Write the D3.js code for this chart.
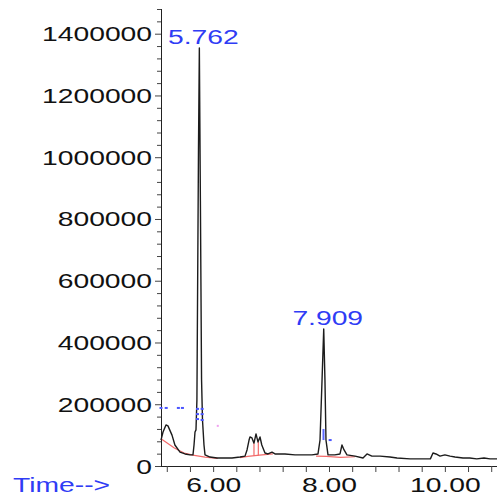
<!DOCTYPE html>
<html>
<head>
<meta charset="utf-8">
<script src="https://cdn.jsdelivr.net/npm/d3@7"></script>
<style>
  html, body { margin: 0; padding: 0; background: #fff; }
  svg { display: block; }
</style>
</head>
<body>
<svg width="498" height="495"></svg>
<script>
// chromatogram trace (time in min, abundance)
const traceTime = [5.10, 5.135, 5.186, 5.22, 5.29, 5.34, 5.428, 5.514, 5.60, 5.652, 5.67, 5.687, 5.704, 5.72, 5.747, 5.762, 5.78, 5.80, 5.816, 5.842, 5.86,
  5.946, 6.067, 6.205, 6.326, 6.464, 6.55, 6.585, 6.62, 6.636, 6.67, 6.705, 6.74, 6.774, 6.809, 6.84, 6.895, 6.947, 7.016, 7.068, 7.24, 7.413, 7.586, 7.706,
  7.81, 7.845, 7.88, 7.909, 7.93, 7.948, 7.983, 8.10, 8.19, 8.224, 8.26, 8.31, 8.45, 8.587, 8.656, 8.74, 8.88, 9.053, 9.174, 9.40, 9.657, 9.75, 9.795, 9.847,
  9.916, 10.0, 10.09, 10.175, 10.313, 10.43, 10.55, 10.676, 10.78, 10.9];
const traceAbund = [84000, 110000, 133000, 130000, 100000, 68000, 45000, 39000, 36000, 36000, 68000, 110000, 117000, 214000, 1023000, 1354000, 860000, 280000, 150000, 68000, 36000,
  29000, 26000, 26000, 26000, 29000, 32000, 52000, 84000, 94000, 91000, 74000, 104000, 78000, 94000, 68000, 42000, 39000, 45000, 39000, 39000, 36000, 36000, 36000,
  39000, 84000, 279000, 444000, 279000, 84000, 36000, 36000, 39000, 68000, 52000, 36000, 32000, 26000, 39000, 32000, 32000, 29000, 26000, 23000, 23000, 23000, 42000, 39000,
  32000, 36000, 32000, 29000, 26000, 26000, 23000, 26000, 23000, 23000];

// integration baselines (red)
const baseA = [[5.10, 88000], [5.20, 75000], [5.33, 58000], [5.50, 42000], [5.65, 35000], [5.86, 29000], [6.08, 25000]];
const baseB = [[6.464, 27000], [6.60, 31000], [6.80, 35000], [7.03, 39000]];
const baseC = [[7.776, 32000], [7.95, 31000], [8.20, 28000], [8.45, 30000]];
const dropLines = [[6.705, 74000, 33000], [6.78, 78000, 34000]];

// peak labels
const peakTime = [5.762, 7.909];
const peakAbund = [1354000, 444000];
const peakText = ["5.762", "7.909"];

// small integration markers
const blueDots = [[5.10, 188000], [5.19, 188000], [5.40, 188000], [5.47, 188000], [5.73, 185000], [5.81, 185000],
  [5.73, 168000], [5.81, 168000], [5.73, 152000], [5.81, 149000], [8.02, 84000]];
const blueStreak = [[7.905, 120000], [7.905, 84000]];
const pinkDots = [[6.08, 130000]];

// axes
const yMax = 1480000;
const yMajor = [0, 200000, 400000, 600000, 800000, 1000000, 1200000, 1400000];
const xLabels = [6, 8, 10];

const svg = d3.select("svg");
const stretch = 1.45;
const font = "'Liberation Sans', Arial, sans-serif";

const x = d3.scaleLinear().domain([5.1, 10.9]).range([161, 497]);
const y = d3.scaleLinear().domain([0, yMax]).range([466, 9]);

const yTicks = d3.range(0, yMax + 1, 40000);
const xTicks = d3.range(5.2, 10.81, 0.4).map((d) => +d.toFixed(1));

// y axis
const yAxis = svg
  .append("g")
  .attr("transform", `translate(${x.range()[0]},0)`)
  .call(
    d3.axisLeft(y)
      .tickValues(yTicks)
      .tickSize(4)
      .tickSizeOuter(0)
      .tickFormat((d) => (yMajor.includes(d) ? d : ""))
  );
yAxis.select(".domain").attr("stroke", "#222").attr("d", `M0.5,${y(0)}V${y(yMax)}`);
yAxis.selectAll(".tick line").attr("stroke", "#444").attr("x2", (d) => (yMajor.includes(d) ? -6 : -4));
yAxis
  .selectAll(".tick text")
  .attr("x", -9 / stretch)
  .attr("dy", "0.36em")
  .attr("transform", `scale(${stretch},1)`)
  .attr("font-family", font)
  .attr("font-size", 19.5)
  .attr("fill", "#111");

// x axis
const xAxis = svg
  .append("g")
  .attr("transform", `translate(0,${y(0)})`)
  .call(
    d3.axisBottom(x)
      .tickValues(xTicks)
      .tickSize(6)
      .tickSizeOuter(0)
      .tickFormat((d) => (xLabels.includes(d) ? d.toFixed(2) : ""))
  );
xAxis.select(".domain").attr("stroke", "#222").attr("d", `M${x.range()[0]},0.5H${x.range()[1]}`);
xAxis.selectAll(".tick line").attr("stroke", "#444");
xAxis
  .selectAll(".tick text")
  .attr("y", 26)
  .attr("dy", 0)
  .attr("transform", `scale(${stretch},1)`)
  .attr("font-family", font)
  .attr("font-size", 19.5)
  .attr("fill", "#111");

svg
  .append("text")
  .attr("transform", `translate(13,492) scale(${stretch},1)`)
  .attr("font-family", font)
  .attr("font-size", 19.5)
  .attr("fill", "#2f3cf5")
  .text("Time-->");

// red baselines
const line = d3.line().x((d) => x(d[0])).y((d) => y(d[1]));
svg
  .append("g")
  .selectAll("path")
  .data([baseA, baseB, baseC])
  .enter()
  .append("path")
  .attr("d", line)
  .attr("fill", "none")
  .attr("stroke", "#f26a6a")
  .attr("stroke-width", 1.2);

svg
  .append("g")
  .selectAll("line")
  .data(dropLines)
  .enter()
  .append("line")
  .attr("x1", (d) => x(d[0]))
  .attr("x2", (d) => x(d[0]))
  .attr("y1", (d) => y(d[1]))
  .attr("y2", (d) => y(d[2]))
  .attr("stroke", "#f26a6a")
  .attr("stroke-width", 1.2);

// trace
const trace = traceTime.map((t, i) => [t, traceAbund[i]]);
svg
  .append("path")
  .datum(trace)
  .attr("d", line)
  .attr("fill", "none")
  .attr("stroke", "#1c1c1c")
  .attr("stroke-width", 1.4)
  .attr("stroke-linejoin", "round");

// markers
svg
  .append("g")
  .selectAll("rect")
  .data(blueDots)
  .enter()
  .append("rect")
  .attr("x", (d) => x(d[0]) - 1.5)
  .attr("y", (d) => y(d[1]) - 1)
  .attr("width", 3)
  .attr("height", 2)
  .attr("fill", "#4a55ff");

svg
  .append("path")
  .datum(blueStreak)
  .attr("d", line)
  .attr("stroke", "#5a66ff")
  .attr("stroke-width", 2);

svg
  .append("g")
  .selectAll("rect")
  .data(pinkDots)
  .enter()
  .append("rect")
  .attr("x", (d) => x(d[0]) - 1)
  .attr("y", (d) => y(d[1]) - 1)
  .attr("width", 2)
  .attr("height", 2)
  .attr("fill", "#f0a0f0");

// peak labels
svg
  .append("g")
  .selectAll("text")
  .data(peakTime)
  .enter()
  .append("text")
  .attr("transform", (d, i) => `translate(${x(d) + 4},${y(peakAbund[i]) - 4}) scale(${stretch},1)`)
  .attr("text-anchor", "middle")
  .attr("font-family", font)
  .attr("font-size", 19.5)
  .attr("fill", "#2f3cf5")
  .text((d, i) => peakText[i]);
</script>
</body>
</html>
